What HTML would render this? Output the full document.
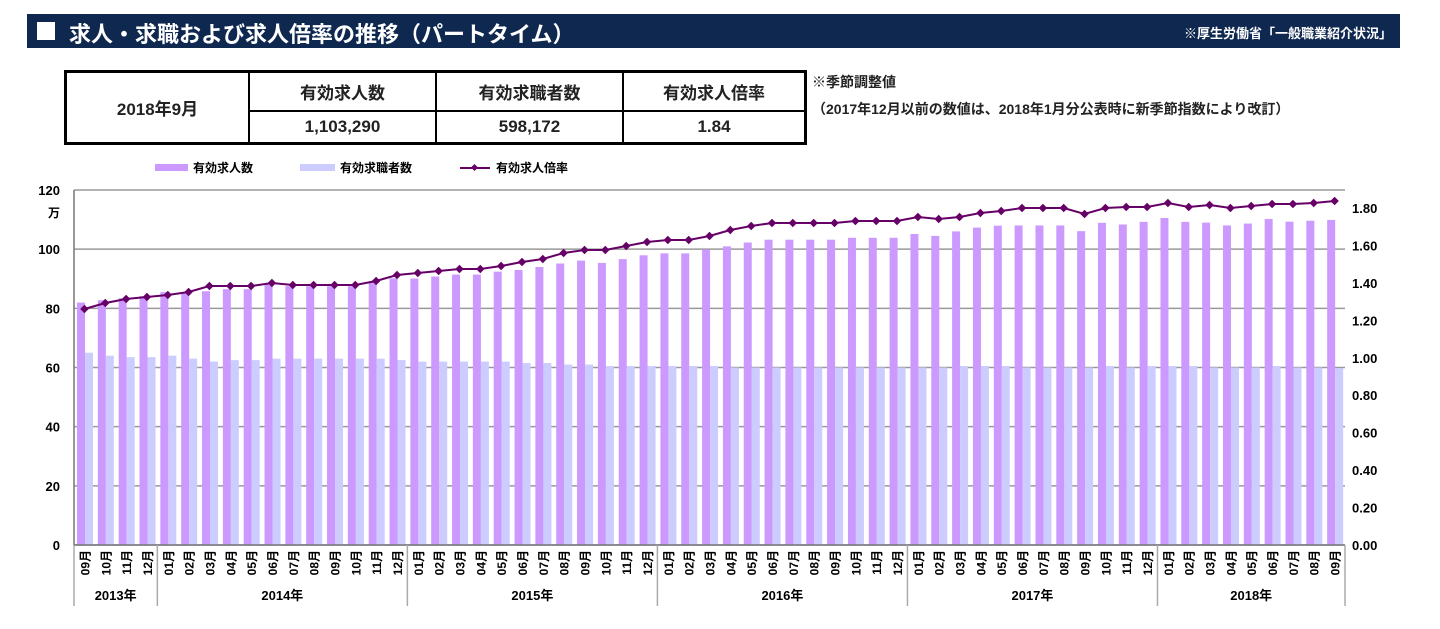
<!DOCTYPE html>
<html><head><meta charset="utf-8"><style>
body{margin:0;width:1440px;height:629px;background:#fff;font-family:"Liberation Sans","Noto Sans CJK JP",sans-serif;position:relative;overflow:hidden}
.hdr{position:absolute;left:27px;top:14px;width:1373px;height:34px;background:#0f2850;color:#fff;font-weight:bold}
.hdr .sq{position:absolute;left:10px;top:8px;width:18px;height:18px;background:#fff}
.hdr .t{position:absolute;left:42px;top:3px;font-size:22px}
.hdr .s{position:absolute;right:8px;top:9px;font-size:13px}
table{position:absolute;left:64px;top:70px;width:743px;height:75px;border-collapse:collapse;border:3px solid #000;font-size:17px;text-align:center;font-weight:bold;color:#222}
td{border:2px solid #000;padding:0}
.note{position:absolute;left:812px;font-size:14px;font-weight:bold;color:#222}
</style></head><body>
<div class="hdr"><span class="sq"></span><span class="t">求人・求職および求人倍率の推移（パートタイム）</span><span class="s">※厚生労働省「一般職業紹介状況」</span></div>
<table><tr><td rowspan="2" style="width:181px">2018年9月</td><td style="width:185px">有効求人数</td><td style="width:185px">有効求職者数</td><td>有効求人倍率</td></tr>
<tr><td>1,103,290</td><td>598,172</td><td>1.84</td></tr></table>
<div class="note" style="top:72px">※季節調整値</div>
<div class="note" style="top:99px">（2017年12月以前の数値は、2018年1月分公表時に新季節指数により改訂）</div>
<svg id="c" width="1440" height="629" style="position:absolute;left:0;top:0" font-family="Liberation Sans,Noto Sans CJK JP,sans-serif"></svg>
<script>
var ys=[309,303,299,297,295,292,286,286,286,283,285,285,285,285,281,275,273,271,269,269,266,262,259,253,250,250,246,242,240,240,236,230,226,223,223,223,223,221,221,221,217,219,217,213,211,208,208,208,214,208,207,207,203,207,205,208,206,204,204,203,201];
var lt=[65,64,63.5,63.5,64,63,62,62.5,62.5,63,63,63,63,63,63,62.5,62,62,62,62,62,61.5,61.5,61,61,60.5,60.5,60.5,60.5,60.5,60.5,60,60,60,60,60,60,60,60,60,60,60,60.5,60.5,60.5,60,60,60,60,60.5,60,60.5,60.5,60.5,60,60,60,60.5,60,60,59.8];
var s='',L=74,R=1345,W=(R-L)/61,B=545,k=355/120;
s='<rect x="155" y="164" width="33" height="7" fill="#cc99ff"/><text x="193" y="172" font-size="12" font-weight="bold">有効求人数</text>';
s+='<rect x="300" y="164" width="35" height="7" fill="#ccccff"/><text x="340" y="172" font-size="12" font-weight="bold">有効求職者数</text>';
s+='<line x1="460" y1="168" x2="490" y2="168" stroke="#660066" stroke-width="2"/><rect x="472" y="165" width="5" height="5" fill="#660066" transform="rotate(45 474.5 167.5)"/><text x="496" y="172" font-size="12" font-weight="bold">有効求人倍率</text>';
for(var v=0;v<=120;v+=20){var y=B-v*k;s+='<line x1="'+L+'" x2="'+R+'" y1="'+y+'" y2="'+y+'" stroke="#999" stroke-width="1.5"/><text x="60" y="'+(y+5)+'" font-size="13" text-anchor="end" font-weight="bold">'+v+'</text>';}
s+='<text x="60" y="217" font-size="12" text-anchor="end" font-weight="bold">万</text>';
for(var i=0;i<=9;i++){var r=i*0.2,y=B-r*187.2;s+='<text x="1352" y="'+(y+5)+'" font-size="13" font-weight="bold">'+r.toFixed(2)+'</text>';}
var pts=[];
for(var i=0;i<61;i++){var x0=L+i*W,rt=(B-ys[i])/187.2,p=rt*lt[i];
s+='<rect x="'+(x0+3)+'" y="'+(B-p*k)+'" width="8" height="'+(p*k)+'" fill="#cc99ff"/>';
s+='<rect x="'+(x0+11)+'" y="'+(B-lt[i]*k)+'" width="8" height="'+(lt[i]*k)+'" fill="#ccccff"/>';
pts.push((x0+W/2).toFixed(1)+','+ys[i]);
var m=((i+8)%12)+1,ms=(m<10?'0':'')+m+'月',cx=x0+W/2+5;
s+='<text transform="translate('+cx+',550) rotate(-90)" font-size="12" font-weight="bold" text-anchor="end">'+ms+'</text>';}
s+='<line x1="'+L+'" x2="'+L+'" y1="190" y2="'+B+'" stroke="#777" stroke-width="1.5"/>';
s+='<polyline points="'+pts.join(' ')+'" fill="none" stroke="#660066" stroke-width="2"/>';
pts.forEach(function(q){var a=q.split(',');s+='<rect x="'+(a[0]-3)+'" y="'+(a[1]-3)+'" width="6" height="6" fill="#660066" transform="rotate(45 '+a[0]+' '+a[1]+')"/>';});
s+='<line x1="'+L+'" x2="'+R+'" y1="'+B+'" y2="'+B+'" stroke="#777" stroke-width="1.5"/>';
var seps=[0,4,16,28,40,52,61],yrs=['2013年','2014年','2015年','2016年','2017年','2018年'];
seps.forEach(function(j){var x=L+j*W;s+='<line x1="'+x+'" x2="'+x+'" y1="'+B+'" y2="606" stroke="#aaa" stroke-width="1.5"/>';});
for(var j=0;j<6;j++){var x=L+(seps[j]+seps[j+1])/2*W;s+='<text x="'+x+'" y="600" font-size="13" font-weight="bold" text-anchor="middle">'+yrs[j]+'</text>';}
document.getElementById('c').innerHTML=s;
</script>
</body></html>
